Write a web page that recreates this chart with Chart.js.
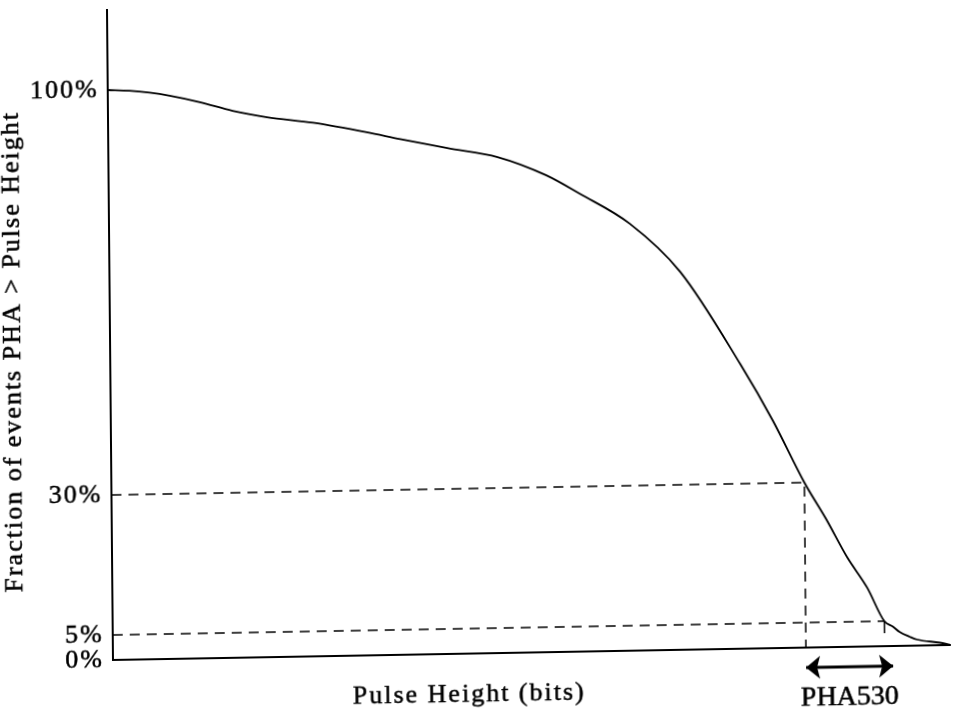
<!DOCTYPE html>
<html>
<head>
<meta charset="utf-8">
<script src="https://cdn.jsdelivr.net/npm/chart.js@4/dist/chart.umd.min.js"></script>
<style>
  html, body { margin: 0; padding: 0; background: #fff; overflow: hidden; width: 953px; height: 712px; }
  #c { display: block; transform-origin: 113px 660px; transform: matrix(1, -0.0179, 0.0092, 1, 0, 0); }
</style>
</head>
<body>
<canvas id="c" width="953" height="740"></canvas>
<script>
// ---- Data ----
// x: pulse height (no scale given; 0-100 arbitrary units across the axis)
// y: fraction of events with PHA > pulse height (%)
const pulseHeight   = [0, 2.6, 5.0, 7.4, 11.0, 14.9, 19.0, 24.5, 30.9, 34.9, 40.5, 46.5, 52.3, 56.3, 62.2, 68.2, 75.3, 79.1, 82.8, 85.4, 87.8, 90.2, 92.2, 93.2, 94.0, 95.2, 96.1, 98.8, 100];
const fractionAbove = [100, 99.8, 99.4, 98.8, 97.6, 96.0, 94.8, 93.7, 91.9, 90.6, 88.9, 87.2, 83.9, 80.6, 75.3, 66.8, 50.6, 40.8, 30.0, 23.3, 16.6, 11.0, 5.0, 3.9, 2.8, 1.8, 1.2, 0.5, 0.05];
const yTickValues   = [0, 5, 30, 100];
const thresholdLevels = [30, 5];        // % levels marked with dashed lines
const thresholdPulse  = [82.8, 92.2];   // pulse heights where the curve crosses them
const phaArrowX       = [82.8, 93.2];   // extent of the PHA530 double arrow
const phaArrowLevel   = -4;             // arrow sits just below the axis
const tick5Bottom     = 2.6;            // short end mark of the 5% line

const yTitle = 'Fraction of events PHA > Pulse Height';
const xTitle = 'Pulse Height (bits)';
const rangeLabel = 'PHA530';

// ---- Schematic (non-uniform) value axis as drawn in the figure ----
const yStopValues    = [0, 5, 30, 100, 114];
const yStopFractions = [0, 25 / 650, 165 / 650, 570 / 650, 1];
function segIndex(arr, v) {
  if (v <= arr[0]) return 0;
  if (v >= arr[arr.length - 1]) return arr.length - 2;
  let i = 0;
  while (v > arr[i + 1]) i++;
  return i;
}
function valueToFrac(v) {
  const i = segIndex(yStopValues, v);
  return yStopFractions[i] + (v - yStopValues[i]) * (yStopFractions[i + 1] - yStopFractions[i]) / (yStopValues[i + 1] - yStopValues[i]);
}
function fracToValue(f) {
  const i = segIndex(yStopFractions, f);
  return yStopValues[i] + (f - yStopFractions[i]) * (yStopValues[i + 1] - yStopValues[i]) / (yStopFractions[i + 1] - yStopFractions[i]);
}
class PiecewiseScale extends Chart.LinearScale {
  getPixelForValue(v) { return v == null ? NaN : this.getPixelForDecimal(valueToFrac(v)); }
  getValueForPixel(p) { return fracToValue(this.getDecimalForPixel(p)); }
}
PiecewiseScale.id = 'piecewise';
Chart.register(PiecewiseScale);

// ---- arrow heads (tip at the image centre) ----
function arrowHead(dir) {
  const c = document.createElement('canvas');
  c.width = 30; c.height = 24;
  const g = c.getContext('2d');
  g.fillStyle = '#000';
  g.beginPath();
  if (dir < 0) { g.moveTo(15, 12); g.lineTo(29, 0.5); g.lineTo(26, 12); g.lineTo(29, 23.5); }
  else { g.moveTo(15, 12); g.lineTo(1, 0.5); g.lineTo(4, 12); g.lineTo(1, 23.5); }
  g.closePath();
  g.fill();
  return c;
}

const serif = "'Liberation Serif', 'Times New Roman', serif";

const figureText = {
  id: 'figureText',
  beforeDraw(chart) { chart.ctx.letterSpacing = '2px'; },
  afterDraw(chart) {
    const { ctx, chartArea: a, scales: { x } } = chart;
    const items = [
      { text: yTitle, x: a.left - 90, y: a.top + 340, rot: -Math.PI / 2, size: 26, spacing: '2px' },
      { text: xTitle, x: a.left + 356, y: a.bottom + 48, rot: 0, size: 26, spacing: '2px' },
      { text: rangeLabel, x: x.getPixelForValue((phaArrowX[0] + phaArrowX[1]) / 2), y: a.bottom + 58, rot: 0, size: 28, spacing: '0px' }
    ];
    for (const it of items) {
      ctx.save();
      ctx.font = it.size + 'px ' + serif;
      ctx.letterSpacing = it.spacing;
      ctx.fillStyle = '#000';
      ctx.strokeStyle = '#000';
      ctx.lineWidth = 0.5;
      ctx.textAlign = 'center';
      ctx.textBaseline = 'alphabetic';
      ctx.translate(it.x, it.y);
      ctx.rotate(it.rot);
      ctx.fillText(it.text, 0, 0);
      ctx.strokeText(it.text, 0, 0);
      ctx.restore();
    }
  }
};

const lineBase = { borderColor: '#000', pointRadius: 0, fill: false, tension: 0 };

new Chart(document.getElementById('c'), {
  type: 'line',
  data: {
    datasets: [
      Object.assign({}, lineBase, {
        label: 'Fraction above',
        data: pulseHeight.map((x, i) => ({ x, y: fractionAbove[i] })),
        borderWidth: 1.8,
        cubicInterpolationMode: 'monotone'
      }),
      Object.assign({}, lineBase, {
        label: '30% level',
        data: [{ x: 0, y: thresholdLevels[0] }, { x: thresholdPulse[0], y: thresholdLevels[0] }, { x: thresholdPulse[0], y: 0 }],
        borderWidth: 1.5,
        borderDash: [10, 7]
      }),
      Object.assign({}, lineBase, {
        label: '5% level',
        data: [{ x: 0, y: thresholdLevels[1] }, { x: thresholdPulse[1], y: thresholdLevels[1] }],
        borderWidth: 1.5,
        borderDash: [10, 7]
      }),
      Object.assign({}, lineBase, {
        label: '5% mark',
        data: [{ x: thresholdPulse[1], y: thresholdLevels[1] }, { x: thresholdPulse[1], y: tick5Bottom }],
        borderWidth: 1.5
      }),
      Object.assign({}, lineBase, {
        label: 'PHA530',
        data: [{ x: phaArrowX[0], y: phaArrowLevel }, { x: phaArrowX[1], y: phaArrowLevel }],
        borderWidth: 3,
        clip: false,
        pointRadius: 30,
        pointStyle: [arrowHead(-1), arrowHead(1)],
        pointBackgroundColor: '#000',
        pointBorderWidth: 0
      })
    ]
  },
  options: {
    responsive: false,
    devicePixelRatio: 1,
    animation: false,
    events: [],
    layout: { autoPadding: false, padding: { top: 10, right: 3, bottom: 80, left: 0 } },
    plugins: { legend: { display: false }, tooltip: { enabled: false }, title: { display: false } },
    scales: {
      x: {
        type: 'linear', min: 0, max: 100,
        ticks: { display: false },
        grid: { display: false, drawTicks: false },
        border: { display: true, color: '#000', width: 2 },
        afterFit(s) { s.height = 0; s.paddingLeft = 0; s.paddingRight = 0; }
      },
      y: {
        type: 'piecewise', min: 0, max: 114,
        grid: { display: false, drawTicks: false },
        border: { display: true, color: '#000', width: 2 },
        ticks: {
          autoSkip: false,
          padding: 9,
          color: '#000',
          textStrokeColor: '#000',
          textStrokeWidth: 0.5,
          font: { family: serif, size: 26 },
          callback: v => v + '%'
        },
        afterBuildTicks(s) { s.ticks = yTickValues.map(v => ({ value: v })); },
        afterFit(s) { s.width = 113; s.paddingTop = 0; s.paddingBottom = 0; }
      }
    }
  },
  plugins: [figureText]
});
</script>
</body>
</html>
